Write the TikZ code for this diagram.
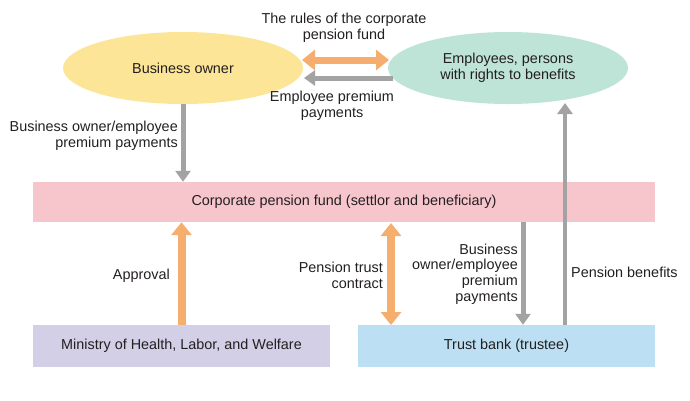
\documentclass[tikz,border=0pt]{standalone}
\usepackage{fontspec}
\setmainfont{Liberation Sans}
\usetikzlibrary{shapes.geometric,arrows.meta,calc}
\definecolor{cyellow}{HTML}{FCE596}
\definecolor{cmint}{HTML}{BEE3D7}
\definecolor{cpink}{HTML}{F7C6CD}
\definecolor{clav}{HTML}{D3CFE6}
\definecolor{cblue}{HTML}{BCDFF3}
\definecolor{corange}{HTML}{F6AE6E}
\definecolor{cgray}{HTML}{A3A3A3}
\definecolor{ctext}{HTML}{231F20}
\tikzset{
  every node/.style={font=\fontsize{14.4}{15.8}\selectfont, text=ctext},
  oval/.style={ellipse, minimum width=240pt, minimum height=72pt, inner sep=0pt},
  box/.style={rectangle, inner sep=0pt, minimum height=42pt},
  garrow/.style={draw=cgray, line width=5pt, -{Triangle[width=15pt,length=11pt]}},
  oarrow/.style={draw=corange, line width=8pt, -{Triangle[width=20pt,length=13pt]}},
  oarrowd/.style={draw=corange, line width=8pt, {Triangle[width=20pt,length=13pt]}-{Triangle[width=20pt,length=13pt]}},
  lbl/.style={align=right, inner sep=0pt},
}
\begin{document}
\begin{tikzpicture}[x=1pt,y=-1pt]
\useasboundingbox (0,0) rectangle (690,400);
\node[oval, fill=cyellow] (owner) at (183,68) {Business owner};
\node[oval, fill=cmint, align=center] (emp) at (508,68) {Employees, persons\\with rights to benefits};
\node[box, fill=cpink, minimum width=622pt, minimum height=40pt] (fund) at (344,202) {Corporate pension fund (settlor and beneficiary)};
\node[box, fill=clav, minimum width=297pt] (min) at (181.5,346) {Ministry of Health, Labor, and Welfare};
\node[box, fill=cblue, minimum width=297pt] (bank) at (506.5,346) {Trust bank (trustee)};

% top arrows
\coordinate (o1) at (302,60);
\coordinate (e1) at (389,60);
\draw[oarrowd, line width=7pt] (o1) -- (e1);
\coordinate (e2) at (393,78);
\coordinate (o2) at (304,78);
\draw[garrow] (e2) -- (o2);
\node[align=center, inner sep=0pt] (rules) at (344,28) {The rules of the corporate\\pension fund};
\node[align=center, inner sep=0pt] (emppay) at (332,106) {Employee premium\\payments};

% owner to fund
\draw[garrow] (owner.south) -- (owner.south |- fund.north);
\node[lbl, anchor=east] (l1) at (178,136) {Business owner/employee\\premium payments};

% approval
\draw[oarrow] (min.north) -- (min.north |- fund.south);
\node[lbl, anchor=east] (l2) at (170,276) {Approval};

% pension trust contract
\coordinate (p1) at (391,223);
\coordinate (p2) at (391,325);
\draw[oarrowd] (p1) -- (p2);
\node[lbl, anchor=east] (l3) at (383,275) {Pension trust\\contract};

% premium payments to bank
\coordinate (q1) at (523,222);
\draw[garrow] (q1) -- (q1 |- bank.north);
\node[lbl, anchor=east] (l4) at (518,274) {Business\\owner/employee\\premium\\payments};

% pension benefits
\coordinate (r1) at (565,325);
\coordinate (r2) at (565,103);
\draw[garrow, line width=4pt] (r1) -- (r2);
\node[lbl, anchor=west, align=left] (l5) at (571,272) {Pension benefits};
\end{tikzpicture}
\end{document}
